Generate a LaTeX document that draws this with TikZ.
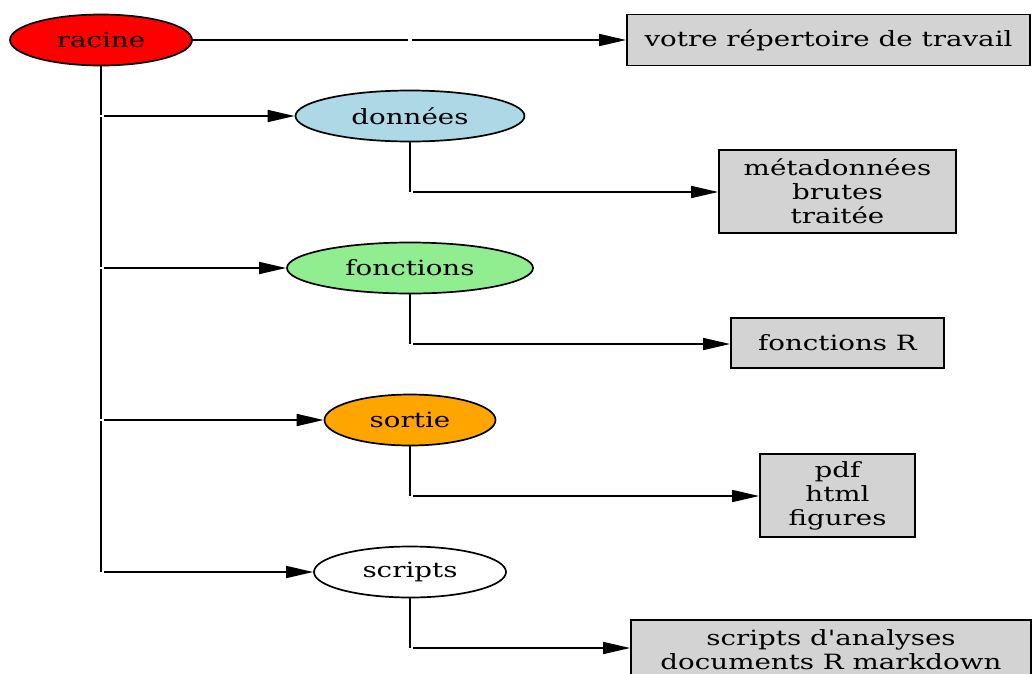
\documentclass[tikz,border=0pt]{standalone}
\usepackage{fontspec}
\setmainfont{DejaVu Serif}[FakeStretch=1.32,Ligatures=TeXOff]
\usetikzlibrary{shapes.geometric,arrows.meta}
\definecolor{gvlightblue}{RGB}{173,216,230}
\definecolor{gvlightgreen}{RGB}{144,238,144}
\definecolor{gvorange}{RGB}{255,165,0}
\definecolor{gvgray}{RGB}{211,211,211}
\tikzset{
  ell/.style={ellipse, draw=black, line width=1.7pt, inner sep=0pt, font=\fontsize{21}{24}\selectfont},
  gbox/.style={rectangle, draw=black, line width=1.7pt, fill=gvgray, inner sep=0pt, align=center, font=\fontsize{21}{24}\selectfont},
  conn/.style={line width=1.6pt},
  arr/.style={conn, -{Triangle[length=27pt,width=12pt]}},
}
\begin{document}
\begin{tikzpicture}[x=1pt,y=-1pt]
\useasboundingbox (0,0) rectangle (1036,673);
% nodes
\node[ell, fill=red, minimum width=182pt, minimum height=51pt] (racine) at (101,40) {racine};
\node[gbox, minimum width=403pt, minimum height=51pt] (travail) at (828.5,40) {votre répertoire de travail};
\node[ell, fill=gvlightblue, minimum width=229pt, minimum height=51pt] (donnees) at (410,116) {données};
\node[ell, fill=gvlightgreen, minimum width=246pt, minimum height=51pt] (fonctions) at (410,268) {fonctions};
\node[ell, fill=gvorange, minimum width=171pt, minimum height=51pt] (sortie) at (410,420) {sortie};
\node[ell, fill=white, minimum width=192pt, minimum height=51pt] (scripts) at (410,572) {scripts};
\node[gbox, minimum width=237pt, minimum height=83pt] (meta) at (837.5,191.5) {métadonnées\\brutes\\traitée};
\node[gbox, minimum width=213pt, minimum height=50pt] (fonR) at (837.5,343) {fonctions R};
\node[gbox, minimum width=155pt, minimum height=83pt] (pdf) at (837.5,495.5) {pdf\\html\\figures};
\node[gbox, minimum width=400pt, minimum height=60pt, anchor=north] (ana) at (831,619) {scripts d'analyses\\documents R markdown};
% junction coordinates
\coordinate (jt) at (410,40);
\coordinate (j1) at (101,116);
\coordinate (j2) at (101,268);
\coordinate (j3) at (101,420);
\coordinate (j4) at (101,572);
\coordinate (k1) at (410,192);
\coordinate (k2) at (410,344);
\coordinate (k3) at (410,496);
\coordinate (k4) at (410,648);
% connectors
\draw[conn, shorten >=2pt] (racine.east) -- (jt);
\draw[arr, shorten <=2pt] (jt) -- (travail.west);
\draw[conn, shorten >=1pt] (racine.south) -- (j1);
\draw[conn, shorten <=1pt, shorten >=1pt] (j1) -- (j2);
\draw[conn, shorten <=1pt, shorten >=1pt] (j2) -- (j3);
\draw[conn, shorten <=1pt] (j3) -- (j4);
\draw[arr, shorten <=3pt] (j1) -- (donnees.west);
\draw[arr, shorten <=3pt] (j2) -- (fonctions.west);
\draw[arr, shorten <=3pt] (j3) -- (sortie.west);
\draw[arr, shorten <=3pt] (j4) -- (scripts.west);
\draw[conn] (donnees.south) -- (k1);
\draw[conn] (fonctions.south) -- (k2);
\draw[conn] (sortie.south) -- (k3);
\draw[conn] (scripts.south) -- (k4);
\draw[arr, shorten <=3pt] (k1) -- (meta.west |- k1);
\draw[arr, shorten <=3pt] (k2) -- (fonR.west |- k2);
\draw[arr, shorten <=3pt] (k3) -- (pdf.west |- k3);
\draw[arr, shorten <=3pt] (k4) -- (ana.west |- k4);
\end{tikzpicture}
\end{document}
